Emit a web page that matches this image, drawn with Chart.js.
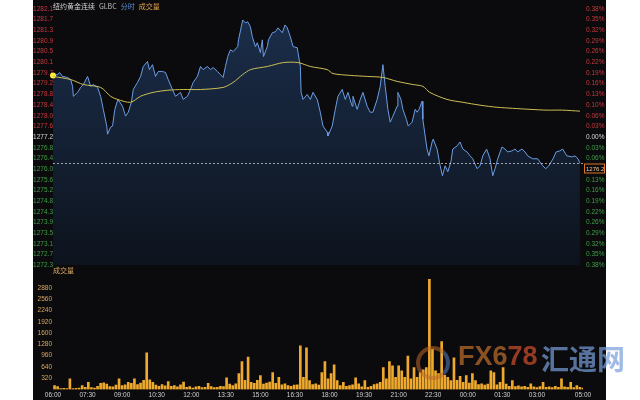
<!DOCTYPE html>
<html>
<head>
<meta charset="utf-8">
<script src="https://cdn.jsdelivr.net/npm/chart.js@4/dist/chart.umd.min.js"></script>
<style>
  body { margin: 0; background: #fff; width: 640px; height: 400px; overflow: hidden; position: relative; font-family: "Liberation Sans", Arial, "Noto Sans CJK SC", sans-serif; }
  #panel { position: absolute; left: 33px; top: 0; width: 573px; height: 400px; background: #0b0b0d; }
  #priceBox { position: absolute; left: 0; top: 0; width: 573px; height: 272px; }
  #volBox { position: absolute; left: 0; top: 272px; width: 573px; height: 128px; }
  #title { position: absolute; left: 20px; top: 1px; font-size: 7px; line-height: 10px; white-space: nowrap; font-family: "Noto Sans CJK SC", sans-serif; }
  #title span { margin-right: 4px; }
  #volLabel { position: absolute; left: 20px; top: 265px; font-size: 7px; line-height: 10px; color: #d9a75f; font-family: "Noto Sans CJK SC", sans-serif; }
  .wm { position: absolute; font-weight: bold; white-space: nowrap; }
</style>
</head>
<body>
<div id="panel">
  <div id="priceBox"><canvas id="priceChart" width="573" height="272"></canvas></div>
  <div id="volBox"><canvas id="volChart" width="573" height="128"></canvas></div>
  <div id="title"><span style="color:#cfcfcf">纽约黄金连续</span><span style="color:#bdbdbd">GLBC</span><span style="color:#5b8ed8">分时</span><span style="color:#e0a24a">成交量</span></div>
  <div id="volLabel">成交量</div>
</div>
<div class="wm" style="left:416px;top:346px;width:26px;height:26px;border-radius:50%;border:4px solid rgba(190,105,40,0.55);border-right-color:rgba(90,130,200,0.55);"></div>
<div class="wm" style="left:458px;top:341px;font-size:27px;font-family:'Liberation Sans',Arial,sans-serif;"><span style="color:rgba(170,100,40,0.8)">FX6</span><span style="color:rgba(185,70,40,0.8)">78</span></div>
<div class="wm" style="left:541px;top:338px;font-size:28px;color:rgba(120,160,220,0.7);font-family:'Noto Sans CJK SC',sans-serif;">汇通网</div>
<script>
// 分时价格 (minutes after 06:00)
const priceMinutes = [
  0, 12, 17, 25, 38, 46, 51, 53, 64, 72,
  79, 90, 98, 105, 116, 124, 131, 140, 142, 150,
  155, 161, 169, 181, 189, 196, 204, 209, 220, 228,
  235, 246, 251, 259, 267, 274, 285, 293, 300, 311,
  319, 332, 339, 350, 358, 365, 376, 384, 391, 402,
  410, 417, 428, 436, 443, 449, 455, 462, 469, 481,
  483, 494, 501, 507, 514, 519, 527, 532, 540, 545,
  548, 558, 561, 571, 579, 586, 597, 604, 610, 618,
  625, 636, 638, 644, 646, 651, 662, 670, 677, 688,
  696, 703, 714, 716, 727, 735, 742, 753, 761, 768,
  779, 781, 792, 800, 807, 818, 826, 833, 844, 852,
  859, 865, 872, 878, 885, 896, 898, 906, 911, 920,
  925, 935, 943, 948, 953, 961, 963, 969, 974, 979,
  987, 990, 1000, 1008, 1014, 1021, 1028, 1036, 1041, 1052,
  1060, 1067, 1078, 1086, 1093, 1104, 1112, 1119, 1129, 1138,
  1145, 1151, 1158, 1169, 1177, 1184, 1195, 1203, 1210, 1221,
  1229, 1236, 1249, 1262, 1275, 1283, 1291, 1302, 1310, 1320,
  1327, 1338, 1352, 1359, 1367, 1372
];
const prices = [
  1279.56, 1279.59, 1279.67, 1279.52, 1279.48, 1279.40, 1279.14, 1278.76, 1278.91, 1279.10,
  1279.21, 1279.52, 1279.14, 1279.21, 1279.10, 1278.76, 1278.26, 1277.62, 1277.31, 1277.58,
  1277.62, 1278.26, 1278.64, 1278.38, 1278.00, 1278.15, 1278.53, 1279.02, 1279.29, 1279.52,
  1279.90, 1280.09, 1279.78, 1279.97, 1279.52, 1279.71, 1279.71, 1279.67, 1279.40, 1279.02,
  1278.76, 1278.91, 1278.64, 1278.76, 1279.02, 1279.29, 1279.52, 1279.90, 1279.78, 1279.90,
  1279.78, 1279.86, 1279.71, 1279.59, 1279.48, 1279.90, 1280.28, 1280.54, 1280.47, 1280.66,
  1280.92, 1281.68, 1281.57, 1281.61, 1281.42, 1281.04, 1280.66, 1280.81, 1280.43, 1280.92,
  1280.28, 1280.66, 1280.92, 1281.19, 1281.23, 1281.38, 1281.19, 1281.49, 1281.38, 1281.04,
  1280.66, 1280.62, 1280.43, 1279.90, 1278.91, 1278.64, 1278.83, 1278.64, 1278.91, 1278.64,
  1278.15, 1277.62, 1277.39, 1277.24, 1277.62, 1278.26, 1278.76, 1279.02, 1278.64, 1278.91,
  1278.38, 1278.76, 1278.26, 1278.64, 1278.91, 1278.38, 1278.15, 1278.15, 1278.64, 1279.14,
  1279.97, 1279.14, 1278.26, 1277.77, 1278.00, 1278.38, 1278.91, 1278.64, 1278.26, 1277.88,
  1277.62, 1277.77, 1278.26, 1278.15, 1278.26, 1278.57, 1277.88, 1277.24, 1276.74, 1276.48,
  1277.01, 1277.12, 1276.74, 1276.10, 1275.72, 1276.10, 1275.87, 1276.25, 1276.74, 1276.86,
  1277.01, 1276.74, 1276.63, 1276.48, 1276.37, 1275.99, 1276.10, 1276.48, 1276.74, 1276.37,
  1275.72, 1275.99, 1276.37, 1276.82, 1276.74, 1276.63, 1276.67, 1276.74, 1276.63, 1276.74,
  1276.63, 1276.48, 1276.37, 1276.37, 1276.10, 1275.99, 1276.10, 1276.37, 1276.63, 1276.67,
  1276.74, 1276.48, 1276.44, 1276.48, 1276.37, 1276.20
];
// 均价线
const avgMinutes = [
  0, 46, 79, 124, 150, 168, 202, 228, 261, 298,
  339, 384, 443, 469, 494, 514, 558, 600, 638, 670,
  714, 729, 774, 818, 859, 896, 937, 963, 981, 1026,
  1067, 1112, 1156, 1197, 1242, 1286, 1327, 1372
];
const avgPrices = [
  1279.52, 1279.40, 1279.21, 1279.10, 1278.76, 1278.64, 1278.53, 1278.76, 1278.91, 1278.99,
  1279.02, 1279.02, 1279.10, 1279.29, 1279.59, 1279.78, 1279.90, 1280.05, 1280.05, 1279.90,
  1279.78, 1279.63, 1279.56, 1279.52, 1279.48, 1279.33, 1279.21, 1279.14, 1278.91, 1278.64,
  1278.53, 1278.42, 1278.34, 1278.30, 1278.26, 1278.23, 1278.23, 1278.19
];
// 成交量, one bar per 8 minutes
const VOL_BIN = 8;
const volumes = [
  110, 80, 20, 30, 20, 300, 20, 30, 40, 110,
  60, 200, 50, 40, 90, 170, 190, 150, 80, 70,
  120, 300, 110, 130, 200, 170, 300, 140, 180, 260,
  1040, 270, 200, 120, 90, 140, 100, 220, 90, 110,
  70, 130, 210, 60, 80, 40, 70, 90, 50, 60,
  170, 80, 50, 60, 90, 80, 330, 150, 110, 160,
  450, 790, 260, 920, 200, 170, 260, 390, 150, 180,
  210, 480, 170, 340, 130, 160, 110, 90, 120, 130,
  1240, 340, 1180, 250, 140, 160, 120, 480, 790, 300,
  450, 700, 250, 110, 200, 90, 110, 130, 330, 160,
  70, 250, 60, 90, 140, 160, 200, 620, 300, 790,
  670, 340, 670, 530, 340, 950, 300, 620, 340, 480,
  560, 620, 3130, 1150, 530, 450, 1360, 400, 340, 250,
  900, 260, 370, 200, 390, 180, 450, 250, 140, 160,
  120, 150, 530, 480, 130, 200, 620, 150, 90, 250,
  80, 100, 70, 90, 60, 160, 70, 50, 80, 200,
  60, 70, 50, 90, 60, 300, 70, 60, 200, 50,
  110, 60, 40
];
const timeTicks = [0, 90, 180, 270, 360, 450, 540, 630, 720, 810, 900, 990, 1080, 1170, 1260, 1380];
const volTicks = [320, 640, 960, 1280, 1600, 1920, 2240, 2560, 2880];

const PRE_CLOSE = 1277.2;
const HALF_RANGE = 4.9;
const STEPS = 12;
const step = HALF_RANGE / STEPS;
const RED = '#c7383f', GREEN = '#3f9f48', WHITE = '#d8d8d8';
const smallFont = { family: '"Liberation Sans", Arial, sans-serif', size: 6.5 };

function fmtTime(m) {
  const h = (6 + Math.floor(m / 60)) % 24, mm = m % 60;
  return String(h).padStart(2, '0') + ':' + String(mm).padStart(2, '0');
}
function priceTicks(s) {
  const t = [];
  for (let k = STEPS; k >= -STEPS; k--) t.push({ value: PRE_CLOSE + k * step });
  s.ticks = t;
}
function tickColor(c) {
  const d = c.tick.value - PRE_CLOSE;
  return Math.abs(d) < 1e-6 ? WHITE : (d > 0 ? RED : GREEN);
}

/* ------------------ 分时图 ------------------ */
// dashed last-price line and the boxed price on the right axis
const lastTag = {
  id: 'lastTag',
  afterDraw(chart) {
    const { ctx, chartArea: a, scales: { y } } = chart;
    const last = prices[prices.length - 1];
    const py = Math.round(y.getPixelForValue(last)) + 0.5;
    ctx.save();
    ctx.strokeStyle = 'rgba(210,210,210,0.75)';
    ctx.lineWidth = 1;
    ctx.setLineDash([2, 2]);
    ctx.beginPath(); ctx.moveTo(a.left, py); ctx.lineTo(a.right, py); ctx.stroke();
    ctx.setLineDash([]);
    const ty = py + 5;
    ctx.fillStyle = '#0b0b0d';
    ctx.fillRect(a.right + 1, ty - 5, 22, 10);
    ctx.strokeStyle = '#d9762a';
    ctx.strokeRect(a.right + 1.5, ty - 4.5, 20, 9);
    ctx.fillStyle = '#f2c9a0';
    ctx.font = '6px "Liberation Sans", Arial, sans-serif';
    ctx.textBaseline = 'middle';
    ctx.fillText(last.toFixed(1), a.right + 3, ty + 0.5);
    ctx.restore();
  }
};

const priceCtx = document.getElementById('priceChart').getContext('2d');
new Chart(priceCtx, {
  type: 'line',
  data: {
    datasets: [{
      data: priceMinutes.map((m, i) => ({ x: m, y: prices[i] })),
      borderColor: '#6b9de4',
      borderWidth: 1,
      pointRadius: c => c.dataIndex === 0 ? 3 : 0,
      pointBackgroundColor: '#ffe93b',
      pointBorderWidth: 0,
      clip: 4,
      fill: 'start',
      backgroundColor: c => {
        const a = c.chart.chartArea;
        if (!a) return 'rgba(25,40,65,0.8)';
        const g = c.chart.ctx.createLinearGradient(0, a.top, 0, a.bottom);
        g.addColorStop(0, '#1b2e4b');
        g.addColorStop(1, '#0d131d');
        return g;
      },
      order: 2
    }, {
      data: avgMinutes.map((m, i) => ({ x: m, y: avgPrices[i] })),
      borderColor: '#cdbf55',
      borderWidth: 1,
      pointRadius: 0,
      fill: false,
      tension: 0.3,
      order: 1
    }]
  },
  options: {
    responsive: false,
    animation: false,
    devicePixelRatio: 1,
    layout: { padding: { top: 9, bottom: 5, left: 0, right: 0 } },
    plugins: { legend: { display: false }, tooltip: { enabled: false } },
    scales: {
      x: { type: 'linear', min: 0, max: 1380, display: false },
      y: {
        position: 'left',
        min: PRE_CLOSE - HALF_RANGE, max: PRE_CLOSE + HALF_RANGE,
        afterBuildTicks: priceTicks,
        afterFit: s => { s.width = 20; },
        ticks: {
          font: smallFont, padding: 0, color: tickColor, autoSkip: false,
          callback: v => (Math.round(v * 10 + 1e-6) / 10).toFixed(1)
        },
        grid: { display: false, drawTicks: false },
        border: { display: false }
      },
      y2: {
        position: 'right',
        min: PRE_CLOSE - HALF_RANGE, max: PRE_CLOSE + HALF_RANGE,
        afterBuildTicks: priceTicks,
        afterFit: s => { s.width = 23; },
        ticks: {
          font: smallFont, padding: 3, color: tickColor, autoSkip: false,
          callback: v => (Math.abs(v - PRE_CLOSE) / PRE_CLOSE * 100).toFixed(2) + '%'
        },
        grid: { display: false, drawTicks: false },
        border: { display: false }
      }
    }
  },
  plugins: [lastTag]
});

/* ------------------ 成交量 ------------------ */
const volCtx = document.getElementById('volChart').getContext('2d');
new Chart(volCtx, {
  type: 'bar',
  data: {
    datasets: [{
      data: volumes.map((v, i) => ({ x: i * VOL_BIN + VOL_BIN / 2, y: v })),
      backgroundColor: '#efaa2d',
      borderWidth: 0,
      barThickness: 2
    }]
  },
  options: {
    responsive: false,
    animation: false,
    devicePixelRatio: 1,
    layout: { padding: { top: 3.3, right: 23, left: 0, bottom: 0 } },
    plugins: { legend: { display: false }, tooltip: { enabled: false } },
    scales: {
      x: {
        type: 'linear', min: 0, max: 1380, offset: false,
        afterBuildTicks: s => { s.ticks = timeTicks.map(v => ({ value: v })); },
        afterFit: s => { s.height = 10.6; },
        ticks: { font: smallFont, color: '#cfcfcf', padding: 2, maxRotation: 0, autoSkip: false, callback: v => fmtTime(v) },
        grid: { display: false, drawTicks: false, offset: false },
        border: { display: false }
      },
      y: {
        min: 0, max: 3200,
        afterBuildTicks: s => { s.ticks = volTicks.map(v => ({ value: v })); },
        afterFit: s => { s.width = 20; },
        ticks: { font: smallFont, color: '#d9a75f', padding: 1, autoSkip: false, callback: v => String(v) },
        grid: { display: false, drawTicks: false },
        border: { display: false }
      }
    }
  }
});
</script>
</body>
</html>
